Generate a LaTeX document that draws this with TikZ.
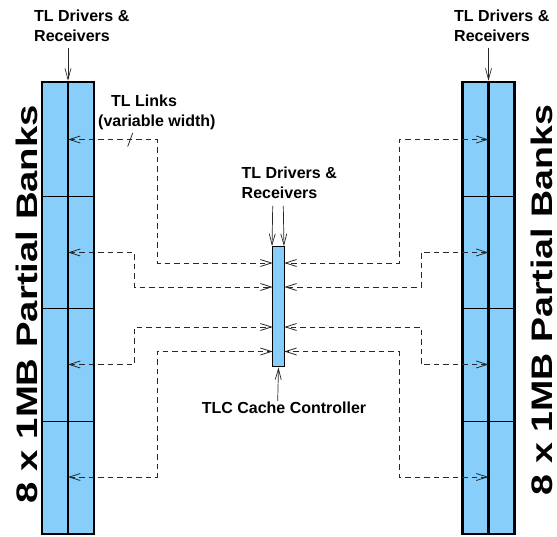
\documentclass[tikz,border=0pt]{standalone}
\usepackage{fontspec}
\setmainfont{Liberation Sans}
\usetikzlibrary{arrows.meta}
\definecolor{bankblue}{RGB}{135,206,250}
\definecolor{wire}{RGB}{40,40,40}
\begin{document}
\begin{tikzpicture}[x=1pt,y=-1pt,
  lbl/.style={font=\fontsize{16}{20}\selectfont\bfseries, inner sep=0pt, align=left, anchor=north west},
  big/.style={inner sep=0pt, rotate=90},
  bank/.style={draw=black, line width=2.5pt, fill=bankblue, minimum width=52pt, minimum height=452pt, inner sep=0pt},
  ctrlbox/.style={draw=black, line width=1.3pt, fill=bankblue, minimum width=11.6pt, minimum height=120pt, inner sep=0pt},
  rowline/.style={draw=black, line width=1pt},
  divline/.style={draw=black, line width=2.5pt},
  pointer/.style={draw=wire, line width=0.7pt, -{Straight Barb[length=11pt,width=6pt]}},
  link/.style={draw=wire, line width=0.8pt, dash pattern=on 5.5pt off 4pt,
     {Straight Barb[length=11pt,width=7pt]}-{Straight Barb[length=11pt,width=7pt]}},
]
\useasboundingbox (0,0) rectangle (557,537);

% banks
\node[bank] (bankL) at (68,308) {};
\node[bank] (bankR) at (488.5,308) {};
\foreach \yy in {197,309,421}{
  \draw[rowline] (bankL.west |- 0,\yy) -- (bankL.east |- 0,\yy);
  \draw[rowline] (bankR.west |- 0,\yy) -- (bankR.east |- 0,\yy);
}
\draw[divline] (bankL.north) -- (bankL.south);
\draw[divline] (bankR.north) -- (bankR.south);

% controller
\node[ctrlbox] (ctrl) at (278.5,306.7) {};

% big rotated labels
\node[big] (txtL) at (27,304) {\resizebox{398pt}{21.5pt}{\bfseries 8 x 1MB Partial Banks}};
\node[big] (txtR) at (541.5,300) {\resizebox{390pt}{21.5pt}{\bfseries 8 x 1MB Partial Banks}};

% text labels
\node[lbl] (drvL) at (34,10) {TL Drivers \&\\Receivers};
\node[lbl] (drvR) at (454,10) {TL Drivers \&\\Receivers};
\node[lbl] (drvC) at (241.5,167) {TL Drivers \&\\Receivers};
\node[lbl] (links) at (98,95) {\hspace{13pt}TL Links\\(variable width)};
\node[lbl, anchor=north] (tlc) at (284,402) {TLC Cache Controller};

% pointer arrows
\coordinate (pL) at (68,48);
\coordinate (pR) at (488.5,48);
\coordinate (pC1) at (272.7,206);
\coordinate (pC2) at (283.3,206);
\coordinate (pB) at (277.7,401);
\draw[pointer] (pL) -- (bankL.north);
\draw[pointer] (pR) -- (bankR.north);
\draw[pointer] (pC1) -- (ctrl.north west);
\draw[pointer] (pC2) -- ([xshift=-1pt]ctrl.north east);
\draw[pointer] (pB) -- (ctrl.south);

% port coordinates
\coordinate (L1) at (68,139.5);
\coordinate (L2) at (68,252.5);
\coordinate (L3) at (68,364.5);
\coordinate (L4) at (68,477);
\coordinate (R1) at (488.5,139.5);
\coordinate (R2) at (488.5,252.5);
\coordinate (R3) at (488.5,364.5);
\coordinate (R4) at (488.5,477);
\coordinate (cL1) at (272.7,263);
\coordinate (cL2) at (272.7,287);
\coordinate (cL3) at (272.7,327);
\coordinate (cL4) at (272.7,351.5);
\coordinate (cR1) at (284.3,263);
\coordinate (cR2) at (284.3,287);
\coordinate (cR3) at (284.3,327);
\coordinate (cR4) at (284.3,351.5);

% dashed links
\draw[link] (L1) -- (157,139.5) |- (cL1);
\draw[link] (L2) -- (134.5,252.5) |- (cL2);
\draw[link] (L3) -- (134.5,364.5) |- (cL3);
\draw[link] (L4) -- (157,477) |- (cL4);
\draw[link] (R1) -- (399,139.5) |- (cR1);
\draw[link] (R2) -- (421,252.5) |- (cR2);
\draw[link] (R3) -- (421,364.5) |- (cR3);
\draw[link] (R4) -- (399,477) |- (cR4);

% variable width tick
\draw[draw=wire, line width=0.8pt] (127.7,146.5) -- (132.7,133);
\end{tikzpicture}
\end{document}
